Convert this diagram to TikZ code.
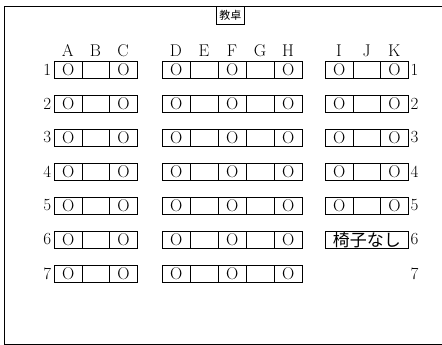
\documentclass[tikz,border=0pt]{standalone}
\usepackage{fontspec}
\usetikzlibrary{calc}
\newfontfamily\jpfont{Noto Sans CJK JP}
\begin{document}
\begin{tikzpicture}[x=1pt,y=-1pt,
  every node/.style={font=\fontsize{17}{20}\selectfont},
  frame/.style={draw, line width=0.9pt},
  lcell/.style={draw, line width=0.7pt, minimum width=27.67pt, minimum height=17pt,
    inner sep=0pt, anchor=north west, text height=11.6pt, text depth=0pt},
  mcell/.style={lcell, minimum width=28pt},
  wide/.style={draw, line width=0.7pt, minimum width=83pt, minimum height=17pt,
    inner sep=0pt, anchor=north west, font=\jpfont\fontsize{17}{17}\selectfont},
  collabel/.style={anchor=base, inner sep=0pt},
  rowl/.style={anchor=east, inner sep=2.5pt},
  rowr/.style={anchor=west, inner sep=2.5pt},
  desk/.style={draw, line width=0.7pt, minimum width=28pt, minimum height=18pt,
    inner sep=0pt, anchor=north west, font=\jpfont\fontsize{11}{12}\selectfont}]
\useasboundingbox (0,0) rectangle (442,345);
\clip (0,0) rectangle (442,345);
\draw[frame] (4,6) rectangle (460,344);
\node[desk] (desk) at (216,6) {教卓};
% column letters
\foreach \c [count=\k from 0] in {A,B,C}
  \node[collabel] (col\c) at ({54+27.67*(\k+0.5)},57) {\c};
\foreach \c [count=\k from 0] in {D,E,F,G,H}
  \node[collabel] (col\c) at ({162+28*(\k+0.5)},57) {\c};
\foreach \c [count=\k from 0] in {I,J,K}
  \node[collabel] (col\c) at ({325+27.67*(\k+0.5)},57) {\c};
% rows
\foreach \r in {1,...,7} {
  \pgfmathsetmacro\ty{61+34*(\r-1)}
  \foreach \k in {0,1,2}
    \node[lcell] (L\r-\k) at ({54+27.67*\k},\ty) {\ifodd\k\else O\fi};
  \foreach \k in {0,...,4}
    \node[mcell] (M\r-\k) at ({162+28*\k},\ty) {\ifodd\k\else O\fi};
  \node[rowl] (ll\r) at ($(54,\ty)+(0,8.5)$) {\r};
  \node[rowr] (rl\r) at ($(408,\ty)+(0,8.5)$) {\r};
}
\foreach \r in {1,...,5} {
  \pgfmathsetmacro\ty{61+34*(\r-1)}
  \foreach \k in {0,1,2}
    \node[lcell] (R\r-\k) at ({325+27.67*\k},\ty) {\ifodd\k\else O\fi};
}
\node[wide] (R6) at (325,231) {椅子なし};
\end{tikzpicture}
\end{document}
